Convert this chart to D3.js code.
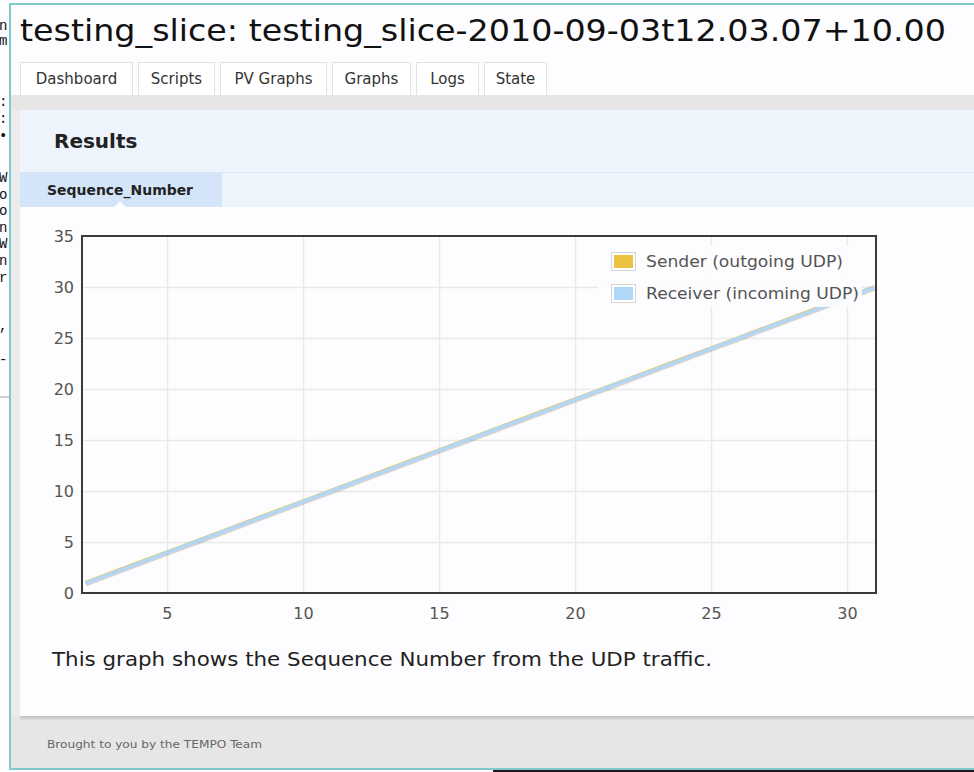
<!DOCTYPE html>
<html>
<head>
<meta charset="utf-8">
<script src="https://cdn.jsdelivr.net/npm/d3@7"></script>
<style>
  body { margin: 0; background: #fdfcfe; overflow: hidden; }
  svg { display: block; }
</style>
</head>
<body>
<script>
// Chart data
var seqX      = [2, 3, 4, 5, 6, 7, 8, 9, 10, 11, 12, 13, 14, 15, 16, 17, 18, 19, 20, 21, 22, 23, 24, 25, 26, 27, 28, 29, 30, 31];
var sender    = [1, 2, 3, 4, 5, 6, 7, 8, 9, 10, 11, 12, 13, 14, 15, 16, 17, 18, 19, 20, 21, 22, 23, 24, 25, 26, 27, 28, 29, 30];
var receiver  = [1, 2, 3, 4, 5, 6, 7, 8, 9, 10, 11, 12, 13, 14, 15, 16, 17, 18, 19, 20, 21, 22, 23, 24, 25, 26, 27, 28, 29, 30];
var xTicks    = [5, 10, 15, 20, 25, 30];
var yTicks    = [0, 5, 10, 15, 20, 25, 30, 35];
var seriesNames = ["Sender (outgoing UDP)", "Receiver (incoming UDP)"];
var tabNames  = ["Dashboard", "Scripts", "PV Graphs", "Graphs", "Logs", "State"];

var W = 974, H = 772;
var font = "'DejaVu Sans', sans-serif";

var svg = d3.select("body").append("svg")
    .attr("width", W)
    .attr("height", H);

// terminal text peeking out on the left
var term = svg.append("g").attr("font-family", "'Liberation Mono', monospace")
    .attr("font-size", 14).attr("fill", "#111");
[["n",30],["m",45],[":",106],[":",123],["\u2022",140],["W",182],["o",199],["o",215],["n",232],["W",248],["n",265],["r",282],[",",330],["-",364]]
  .forEach(function(t){ term.append("text").attr("x", -1).attr("y", t[1]).text(t[0]); });
svg.append("rect").attr("x", 0).attr("y", 396).attr("width", 10).attr("height", 2).attr("fill", "#cfcfcf");
svg.append("rect").attr("x", 493).attr("y", 767).attr("width", 481).attr("height", 5).attr("fill", "#1a1a1a");

// browser window
var win = svg.append("g");
win.append("rect").attr("x", 10).attr("y", 4).attr("width", W).attr("height", 765)
   .attr("fill", "#fdfcfe").attr("stroke", "#7fcbcc").attr("stroke-width", 2);

win.append("text")
   .attr("x", 20).attr("y", 41)
   .attr("font-family", font).attr("font-size", 31).attr("fill", "#111")
   .attr("textLength", 926).attr("lengthAdjust", "spacingAndGlyphs")
   .text("testing_slice: testing_slice-2010-09-03t12.03.07+10.00");

// navigation tabs
var tabX = [20, 138, 220, 332, 416, 484],
    tabW = [112, 76, 106, 78, 62, 62];
var tabs = win.selectAll("g.tab").data(tabNames).enter().append("g").attr("class", "tab");
tabs.append("rect")
    .attr("x", function(d, i){ return tabX[i] + 0.5; }).attr("y", 62.5)
    .attr("width", function(d, i){ return tabW[i]; }).attr("height", 34)
    .attr("fill", "#fff").attr("stroke", "#e2e2e2");
tabs.append("text")
    .attr("x", function(d, i){ return tabX[i] + tabW[i] / 2 + 0.5; }).attr("y", 84)
    .attr("text-anchor", "middle")
    .attr("font-family", font).attr("font-size", 15).attr("fill", "#333")
    .text(function(d){ return d; });

// grey band and gutter
win.append("rect").attr("x", 11).attr("y", 95).attr("width", W).attr("height", 15).attr("fill", "#e6e6e6");
win.append("rect").attr("x", 11).attr("y", 110).attr("width", 9).attr("height", 610).attr("fill", "#ececec");

// results panel
win.append("rect").attr("x", 20).attr("y", 110).attr("width", W).attr("height", 97).attr("fill", "#eef4fb");
win.append("line").attr("x1", 20).attr("x2", W).attr("y1", 172.5).attr("y2", 172.5).attr("stroke", "#d9e6f5");
win.append("text").attr("x", 54).attr("y", 148)
   .attr("font-family", font).attr("font-weight", "bold").attr("font-size", 20).attr("fill", "#222")
   .text("Results");
win.append("rect").attr("x", 20).attr("y", 173).attr("width", 202).attr("height", 34).attr("fill", "#d5e5f9");
win.append("text").attr("x", 47).attr("y", 195)
   .attr("font-family", font).attr("font-weight", "bold").attr("font-size", 14).attr("fill", "#222")
   .attr("textLength", 146).attr("lengthAdjust", "spacingAndGlyphs")
   .text("Sequence_Number");
win.append("rect").attr("x", 20).attr("y", 207).attr("width", W).attr("height", 509).attr("fill", "#fdfcfe");
win.append("path").attr("d", "M114,207 L120,201 L126,207 Z").attr("fill", "#fdfcfe");

// footer
var shade = svg.append("defs").append("linearGradient").attr("id", "shade")
    .attr("x1", 0).attr("x2", 0).attr("y1", 0).attr("y2", 1);
shade.append("stop").attr("offset", 0).attr("stop-color", "#bdbdbd");
shade.append("stop").attr("offset", 1).attr("stop-color", "#e6e6e6");
win.append("rect").attr("x", 11).attr("y", 716).attr("width", W).attr("height", 52).attr("fill", "#e6e6e6");
win.append("rect").attr("x", 20).attr("y", 716).attr("width", W).attr("height", 5).attr("fill", "url(#shade)");
win.append("text").attr("x", 47).attr("y", 748)
   .attr("font-family", "'DejaVu Sans Condensed', 'DejaVu Sans', sans-serif").attr("font-size", 11).attr("fill", "#666")
   .attr("textLength", 215).attr("lengthAdjust", "spacingAndGlyphs")
   .text("Brought to you by the TEMPO Team");

// caption
win.append("text").attr("x", 52).attr("y", 666)
   .attr("font-family", font).attr("font-size", 20).attr("fill", "#222")
   .attr("textLength", 660).attr("lengthAdjust", "spacingAndGlyphs")
   .text("This graph shows the Sequence Number from the UDP traffic.");

// ---- the plot ----
var plot = {left: 82, right: 876, top: 236, bottom: 593};
var x = d3.scaleLinear().domain([1.88, 31.07]).range([plot.left, plot.right]);
var y = d3.scaleLinear().domain([0, 35]).range([plot.bottom, plot.top]);

var g = svg.append("g");

// grid
g.append("g").selectAll("line").data(xTicks).enter().append("line")
  .attr("x1", function(d){ return Math.round(x(d)) + 0.5; })
  .attr("x2", function(d){ return Math.round(x(d)) + 0.5; })
  .attr("y1", plot.top).attr("y2", plot.bottom)
  .attr("stroke", "#e9e9e9").attr("stroke-width", 1.5);
g.append("g").selectAll("line").data(yTicks.slice(1, -1)).enter().append("line")
  .attr("y1", function(d){ return Math.round(y(d)) + 0.5; })
  .attr("y2", function(d){ return Math.round(y(d)) + 0.5; })
  .attr("x1", plot.left).attr("x2", plot.right)
  .attr("stroke", "#e9e9e9").attr("stroke-width", 1.5);

// axes (labels only, flot style)
var xAxis = g.append("g").attr("transform", "translate(0," + (plot.bottom + 26) + ")")
  .call(d3.axisBottom(x).tickValues(xTicks).tickSize(0).tickPadding(0));
var yAxis = g.append("g").attr("transform", "translate(" + (plot.left - 8) + ",0)")
  .call(d3.axisLeft(y).tickValues(yTicks).tickSize(0).tickPadding(0));
[xAxis, yAxis].forEach(function(a){
  a.select(".domain").remove();
  a.selectAll("text").attr("font-family", font).attr("font-size", 16).attr("fill", "#555");
});
yAxis.selectAll("text").attr("dy", "0.35em");
xAxis.selectAll("text").attr("dy", 0);

// lines
svg.append("clipPath").attr("id", "clip").append("rect")
  .attr("x", plot.left).attr("y", plot.top - 10).attr("width", plot.right - plot.left + 8).attr("height", plot.bottom - plot.top + 10);
var line = d3.line().x(function(d, i){ return x(seqX[i]); }).y(function(d){ return y(d); });
var lines = g.append("g").attr("clip-path", "url(#clip)");
lines.append("path").datum(receiver).attr("d", line).attr("fill", "none")
  .attr("transform", "translate(1,2)")
  .attr("stroke", "rgba(0,0,0,0.16)").attr("stroke-width", 3);
lines.append("path").datum(sender).attr("d", line).attr("fill", "none")
  .attr("transform", "translate(0,-0.6)")
  .attr("stroke", "#edc240").attr("stroke-width", 2.6);
lines.append("path").datum(receiver).attr("d", line).attr("fill", "none")
  .attr("transform", "translate(0,0.3)")
  .attr("stroke", "#afd8f8").attr("stroke-width", 3.2);

// frame
g.append("rect").attr("x", plot.left).attr("y", plot.top)
  .attr("width", plot.right - plot.left).attr("height", plot.bottom - plot.top)
  .attr("fill", "none").attr("stroke", "#3a3a3a").attr("stroke-width", 2);

// legend
var lg = g.append("g");
lg.append("rect").attr("x", 598).attr("y", 246).attr("width", 264).attr("height", 61)
  .attr("fill", "#fdfcfe").attr("opacity", 0.9);
var colors = ["#edc240", "#afd8f8"];
var textLen = [197, 213];
var items = lg.selectAll("g.item").data(seriesNames).enter().append("g")
  .attr("transform", function(d, i){ return "translate(611," + (252 + i * 32) + ")"; });
items.append("rect").attr("x", 0.5).attr("y", 0.5).attr("width", 24).attr("height", 18)
  .attr("fill", "#fff").attr("stroke", "#d6d6d6");
items.append("rect").attr("x", 3).attr("y", 3).attr("width", 19).attr("height", 13)
  .attr("fill", function(d, i){ return colors[i]; });
items.append("text").attr("x", 35).attr("y", 15)
  .attr("font-family", font).attr("font-size", 16).attr("fill", "#545454")
  .attr("textLength", function(d, i){ return textLen[i]; }).attr("lengthAdjust", "spacingAndGlyphs")
  .text(function(d){ return d; });
</script>
</body>
</html>
